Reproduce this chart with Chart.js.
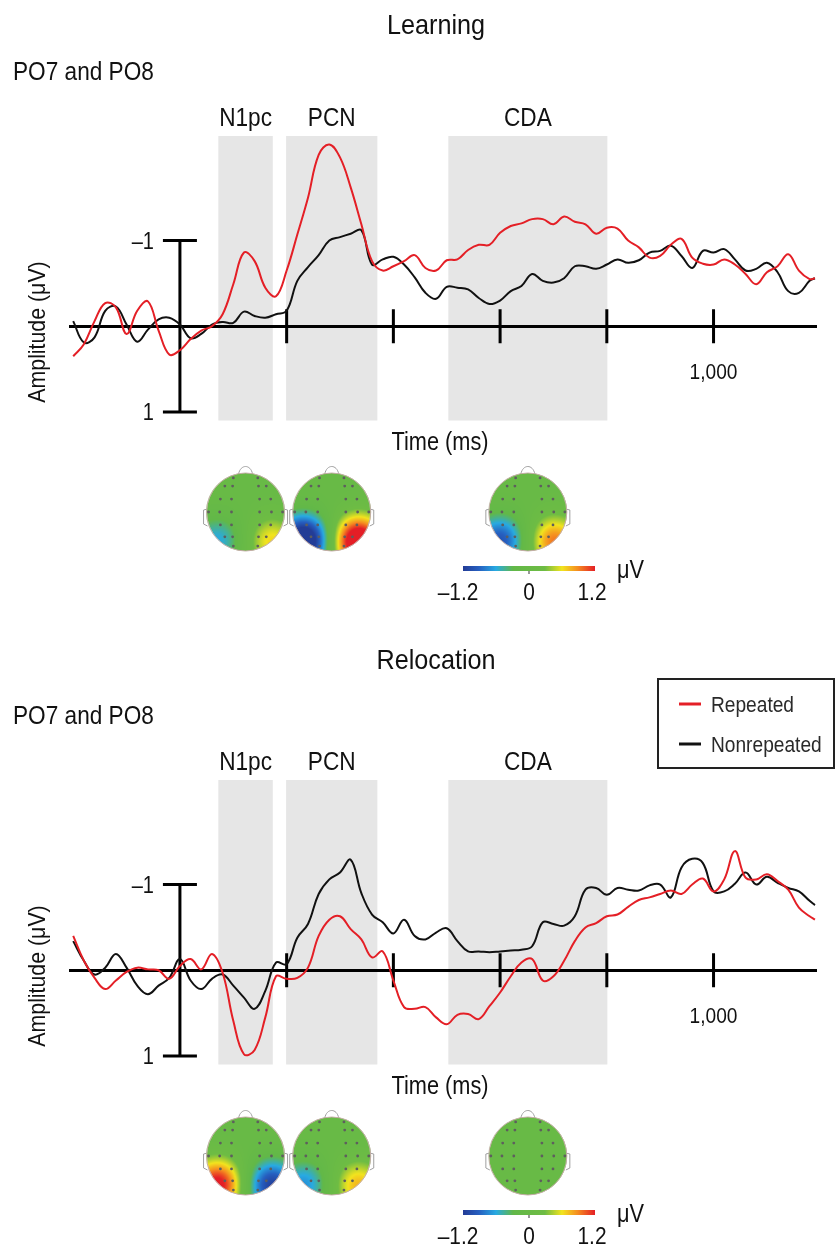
<!DOCTYPE html>
<html>
<head>
<meta charset="utf-8">
<title>Learning and Relocation ERPs</title>
<script src="https://cdn.jsdelivr.net/npm/chart.js@4.4.0/dist/chart.umd.min.js"></script>
<style>
  body { margin: 0; background: #fff; }
  canvas { position: absolute; left: 0; }
</style>
</head>
<body>
<canvas id="learningChart" width="835" height="644" style="top:0"></canvas>
<canvas id="relocationChart" width="835" height="604" style="top:644px"></canvas>
<script>
// time points in ms
const times = [-200, -180, -160, -140, -120, -100, -80, -60, -40, -20,
    0, 20, 40, 60, 80, 100, 120, 140, 160, 180,
    200, 220, 240, 260, 280, 300, 320, 340, 360, 380,
    400, 420, 440, 460, 480, 500, 520, 540, 560, 580,
    600, 620, 640, 660, 680, 700, 720, 740, 760, 780,
    800, 820, 840, 860, 880, 900, 920, 940, 960, 980,
    1000, 1020, 1040, 1060, 1080, 1100, 1120, 1140, 1160, 1180,
    1190];

// amplitudes in microvolts (negative plotted up)
const learningRepeated = [0.35, 0.21, -0.06, -0.27, -0.22, 0.09, -0.18, -0.29, 0.05, 0.33,
    0.28, 0.15, 0.05, 0.00, -0.14, -0.49, -0.86, -0.76, -0.45, -0.35,
    -0.65, -1.07, -1.50, -2.00, -2.12, -1.97, -1.62, -1.19, -0.76, -0.65,
    -0.70, -0.76, -0.83, -0.68, -0.65, -0.77, -0.78, -0.89, -0.95, -0.95,
    -1.09, -1.17, -1.20, -1.25, -1.25, -1.19, -1.28, -1.22, -1.19, -1.08,
    -1.15, -1.14, -1.00, -0.92, -0.80, -0.82, -0.95, -1.02, -0.80, -0.73,
    -0.72, -0.78, -0.72, -0.61, -0.49, -0.63, -0.70, -0.84, -0.65, -0.55,
    -0.56];
const learningNonrepeated = [-0.06, 0.19, 0.13, -0.18, -0.23, -0.02, 0.18, 0.04, -0.08, -0.10,
    -0.02, 0.14, 0.09, -0.02, -0.05, -0.04, -0.17, -0.12, -0.10, -0.14,
    -0.18, -0.53, -0.69, -0.83, -1.00, -1.04, -1.08, -1.12, -0.72, -0.78,
    -0.81, -0.72, -0.57, -0.39, -0.32, -0.46, -0.45, -0.43, -0.33, -0.26,
    -0.30, -0.41, -0.47, -0.61, -0.53, -0.51, -0.56, -0.70, -0.70, -0.67,
    -0.72, -0.78, -0.74, -0.77, -0.86, -0.88, -0.94, -0.82, -0.68, -0.88,
    -0.86, -0.90, -0.78, -0.65, -0.67, -0.74, -0.63, -0.41, -0.39, -0.53,
    -0.56];
const relocationRepeated = [-0.40, -0.11, 0.09, 0.22, 0.12, 0.02, -0.03, -0.01, 0.00, 0.10,
    -0.05, -0.13, -0.01, -0.19, 0.03, 0.59, 0.98, 0.93, 0.55, 0.07,
    0.10, 0.09, -0.03, -0.40, -0.59, -0.63, -0.48, -0.36, -0.15, -0.22,
    0.12, 0.43, 0.45, 0.43, 0.55, 0.63, 0.52, 0.51, 0.57, 0.42,
    0.26, 0.07, -0.09, -0.13, 0.12, 0.07, -0.11, -0.34, -0.50, -0.55,
    -0.63, -0.65, -0.74, -0.82, -0.85, -0.89, -0.93, -0.89, -1.00, -1.07,
    -0.92, -1.06, -1.39, -1.08, -1.06, -1.12, -1.04, -0.94, -0.73, -0.63,
    -0.59];
const relocationNonrepeated = [-0.34, -0.11, 0.05, -0.03, -0.19, -0.03, 0.18, 0.28, 0.18, 0.09,
    -0.13, 0.12, 0.22, 0.10, 0.05, 0.18, 0.32, 0.45, 0.24, -0.09,
    -0.07, -0.38, -0.54, -0.89, -1.06, -1.14, -1.29, -0.90, -0.65, -0.56,
    -0.43, -0.59, -0.40, -0.36, -0.44, -0.49, -0.34, -0.22, -0.22, -0.21,
    -0.22, -0.23, -0.24, -0.28, -0.56, -0.54, -0.52, -0.63, -0.94, -0.96,
    -0.88, -0.96, -0.94, -0.93, -0.99, -1.00, -0.85, -1.20, -1.30, -1.25,
    -0.92, -0.92, -1.01, -1.14, -1.00, -1.09, -1.02, -0.96, -0.92, -0.81,
    -0.76];

// component windows (ms) and their names
const components = ['N1pc', 'PCN', 'CDA'];
const windows = [[72, 174], [199, 370], [503, 801]];

// axis ticks
const xTicks = [200, 400, 600, 800, 1000];
const xTickLabels = ['', '', '', '', '1,000'];
const yTicks = [-1, 1];
const yTickLabels = ['\u20131', '1'];

// scalp map amplitudes at left / right posterior sites, one pair per component
const learningMaps = [[-0.6, 0.65], [-1.6, 1.6], [-1.0, 0.95]];
const relocationMaps = [[1.3, -1.15], [-0.7, 0.75], [0, 0]];
const colorbarTicks = [-1.2, 0, 1.2];
const colorbarLabels = ['\u20131.2', '0', '1.2'];

const FONT = '"Liberation Sans", Arial, sans-serif';
const SQUEEZE = 0.87;
const RED = '#e41f26';
const BLACK = '#111';

function label(ctx, str, x, y, size, align, opts) {
    opts = opts || {};
    ctx.save();
    ctx.font = size + 'px ' + FONT;
    ctx.fillStyle = opts.color || BLACK;
    ctx.textAlign = align;
    ctx.textBaseline = opts.baseline || 'alphabetic';
    ctx.translate(x, y);
    if (opts.rotate) ctx.rotate(-Math.PI / 2);
    ctx.scale(opts.squeeze || SQUEEZE, 1);
    ctx.fillText(str, 0, 0);
    ctx.restore();
}

// jet-like colour scale of the maps
const jet = [[0, 35, 60, 150], [0.12, 38, 95, 192], [0.25, 40, 170, 226], [0.38, 98, 184, 72],
    [0.62, 110, 188, 68], [0.75, 242, 228, 30], [0.87, 245, 140, 32], [1, 228, 30, 38]];
function jetColor(v) {
    const t = Math.max(0, Math.min(1, (v + 1.2) / 2.4));
    for (let i = 1; i < jet.length; i++) {
        if (t <= jet[i][0]) {
            const a = jet[i - 1], b = jet[i], f = (t - a[0]) / (b[0] - a[0]);
            return [0, 1, 2].map(k => a[k + 1] + (b[k + 1] - a[k + 1]) * f);
        }
    }
    return jet[jet.length - 1].slice(1);
}

const sites = [[-0.72, 0.74], [0.68, 0.76]];
const electrodes = [[0.33, -0.92], [0.35, -0.7], [0.56, -0.7], [0.38, -0.35], [0.68, -0.35],
    [0.38, 0], [0.7, 0], [1.0, 0], [0.38, 0.35], [0.68, 0.35], [0.35, 0.67], [0.56, 0.67], [0.33, 0.92]];

function drawHead(ctx, cx, cy, amps) {
    const R = 39, size = 2 * R + 2;
    const off = document.createElement('canvas');
    off.width = off.height = size;
    const octx = off.getContext('2d');
    const img = octx.createImageData(size, size);
    for (let py = 0; py < size; py++) {
        for (let px = 0; px < size; px++) {
            const nx = (px + 0.5 - size / 2) / R, ny = (py + 0.5 - size / 2) / R;
            const edge = Math.max(0, Math.min(1, (1 - Math.hypot(nx, ny)) * R + 0.5));
            if (edge <= 0) continue;
            let v = 0;
            sites.forEach((s, i) => {
                v += amps[i] * Math.exp(-((nx - s[0]) ** 2 + (ny - s[1]) ** 2) / 0.42);
            });
            const c = jetColor(v), k = (py * size + px) * 4;
            img.data[k] = c[0]; img.data[k + 1] = c[1]; img.data[k + 2] = c[2];
            img.data[k + 3] = 255 * edge;
        }
    }
    octx.putImageData(img, 0, 0);

    // nose and ears
    ctx.save();
    ctx.strokeStyle = '#a0a0a0';
    ctx.lineWidth = 1;
    ctx.beginPath();
    ctx.moveTo(cx - 7, cy - R + 1);
    ctx.bezierCurveTo(cx - 5, cy - R - 9, cx + 5, cy - R - 9, cx + 7, cy - R + 1);
    ctx.stroke();
    [-1, 1].forEach(side => {
        ctx.beginPath();
        ctx.moveTo(cx + side * (R - 1), cy - 3);
        ctx.lineTo(cx + side * (R + 3), cy - 2);
        ctx.lineTo(cx + side * (R + 3), cy + 12);
        ctx.lineTo(cx + side * (R - 1), cy + 14);
        ctx.stroke();
    });
    ctx.drawImage(off, cx - size / 2, cy - size / 2);
    ctx.beginPath();
    ctx.arc(cx, cy, R, 0, Math.PI * 2);
    ctx.strokeStyle = '#c4aca6';
    ctx.stroke();
    ctx.fillStyle = '#5e5e5e';
    electrodes.forEach(e => {
        [-1, 1].forEach(side => {
            ctx.beginPath();
            ctx.arc(cx + side * e[0] * (R - 2), cy + e[1] * (R - 2), 1.4, 0, Math.PI * 2);
            ctx.fill();
        });
    });
    ctx.restore();
}

function drawColorbar(ctx, top) {
    const left = 463, right = 595;
    const grad = ctx.createLinearGradient(left, 0, right, 0);
    jet.forEach(s => grad.addColorStop(s[0], 'rgb(' + s[1] + ',' + s[2] + ',' + s[3] + ')'));
    ctx.fillStyle = grad;
    ctx.fillRect(left, top, right - left, 5);
    ctx.fillStyle = '#333';
    ctx.fillRect((left + right) / 2 - 0.5, top + 5, 1, 3);
    colorbarTicks.forEach((v, i) => {
        const x = left + (v - colorbarTicks[0]) / (colorbarTicks[2] - colorbarTicks[0]) * (right - left);
        label(ctx, colorbarLabels[i], i === 0 ? x - 5 : (i === 2 ? x - 3 : x), top + 34, 24, 'center');
    });
    label(ctx, '\u03bcV', 617, top + 12, 25, 'left');
}

const erpPlugin = {
    id: 'erpLayout',
    beforeDraw(chart, args, opts) {
        const ctx = chart.ctx, area = chart.chartArea, x = chart.scales.x;
        ctx.save();
        ctx.fillStyle = '#e6e6e6';
        windows.forEach((w, i) => {
            const x0 = x.getPixelForValue(w[0]), x1 = x.getPixelForValue(w[1]);
            ctx.fillRect(x0, area.top, x1 - x0, area.bottom - area.top);
            label(ctx, components[i], (x0 + x1) / 2, area.top - 10, 26, 'center');
        });
        ctx.restore();
    },
    beforeDatasetsDraw(chart) {
        const ctx = chart.ctx, x = chart.scales.x, y = chart.scales.y;
        const x0 = x.getPixelForValue(0), y0 = y.getPixelForValue(0);
        ctx.save();
        ctx.strokeStyle = '#000';
        ctx.lineWidth = 3;
        ctx.beginPath();
        ctx.moveTo(x0, y.getPixelForValue(yTicks[0]));
        ctx.lineTo(x0, y.getPixelForValue(yTicks[yTicks.length - 1]));
        yTicks.forEach((v, i) => {
            const py = y.getPixelForValue(v);
            ctx.moveTo(x0 - 17, py);
            ctx.lineTo(x0 + 17, py);
            label(ctx, yTickLabels[i], x0 - 26, py + 8, 23, 'right');
        });
        xTicks.forEach((v, i) => {
            const px = x.getPixelForValue(v);
            ctx.moveTo(px, y0 - 17);
            ctx.lineTo(px, y0 + 17);
            if (xTickLabels[i]) label(ctx, xTickLabels[i], px, y0 + 53, 22, 'center');
        });
        ctx.stroke();
        ctx.restore();
    },
    afterDraw(chart, args, opts) {
        const ctx = chart.ctx, x = chart.scales.x;
        label(ctx, opts.title, 436, opts.titleY, 28, 'center', {squeeze: 0.9});
        label(ctx, 'PO7 and PO8', 13, 80, 26, 'left');
        label(ctx, 'Time (ms)', 440, 450, 25, 'center');
        label(ctx, 'Amplitude (\u03bcV)', 45, 332, 24.5, 'center', {rotate: true});
        windows.forEach((w, i) => {
            drawHead(ctx, x.getPixelForValue((w[0] + w[1]) / 2), 512, opts.maps[i]);
        });
        drawColorbar(ctx, 566);
        if (opts.legend) {
            ctx.save();
            ctx.strokeStyle = '#222';
            ctx.lineWidth = 2;
            ctx.strokeRect(658, 35, 176, 89);
            chart.data.datasets.forEach((ds, i) => {
                const ly = 60 + i * 40;
                ctx.strokeStyle = ds.borderColor;
                ctx.lineWidth = 3;
                ctx.beginPath();
                ctx.moveTo(679, ly);
                ctx.lineTo(701, ly);
                ctx.stroke();
                label(ctx, ds.label, 711, ly + 8, 22, 'left', {color: '#2a2a2a'});
            });
            ctx.restore();
        }
    }
};

function makeChart(id, repeated, nonrepeated, title, titleY, maps, legend) {
    const canvas = document.getElementById(id);
    return new Chart(canvas.getContext('2d'), {
        type: 'line',
        data: {
            datasets: [{
                label: 'Repeated',
                data: times.map((t, i) => ({x: t, y: repeated[i]})),
                borderColor: RED,
                borderWidth: 2,
                pointRadius: 0,
                tension: 0.4
            }, {
                label: 'Nonrepeated',
                data: times.map((t, i) => ({x: t, y: nonrepeated[i]})),
                borderColor: BLACK,
                borderWidth: 2,
                pointRadius: 0,
                tension: 0.4
            }]
        },
        options: {
            responsive: false,
            animation: false,
            layout: {
                padding: {left: 70, right: 19, top: 136, bottom: canvas.height - 420.5}
            },
            plugins: {
                legend: {display: false},
                tooltip: {enabled: false},
                erpLayout: {title: title, titleY: titleY, maps: maps, legend: legend}
            },
            scales: {
                x: {
                    type: 'linear',
                    min: -206,
                    max: 1192,
                    position: {y: 0},
                    grid: {display: false, drawTicks: false},
                    border: {display: true, color: '#000', width: 3},
                    ticks: {display: false},
                    afterBuildTicks: s => { s.ticks = xTicks.map(v => ({value: v})); }
                },
                y: {
                    type: 'linear',
                    reverse: true,
                    min: -2.22,
                    max: 1.10,
                    position: {x: 0},
                    grid: {display: false, drawTicks: false},
                    border: {display: false},
                    ticks: {display: false},
                    afterBuildTicks: s => { s.ticks = yTicks.map(v => ({value: v})); }
                }
            }
        },
        plugins: [erpPlugin]
    });
}

document.addEventListener('DOMContentLoaded', function() {
    makeChart('learningChart', learningRepeated, learningNonrepeated, 'Learning', 34, learningMaps, false);
    makeChart('relocationChart', relocationRepeated, relocationNonrepeated, 'Relocation', 25, relocationMaps, true);
});
</script>
</body>
</html>
